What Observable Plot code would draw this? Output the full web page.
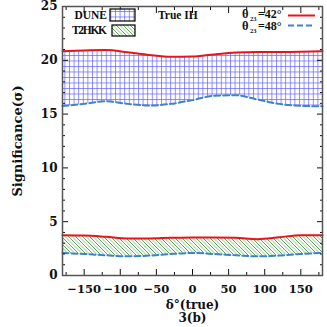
<!DOCTYPE html>
<html><head><meta charset="utf-8">
<script src="https://cdn.jsdelivr.net/npm/d3@7"></script>
<script src="https://cdn.jsdelivr.net/npm/@observablehq/plot@0.6"></script>
<style>body{margin:0;background:#fff}</style>
</head><body><div id="chart"></div>
<script>
const delta   = [-180, -150, -120, -90, -60, -30, 0, 30, 60, 90, 120, 150, 180];
const dune42  = [20.85, 20.92, 20.95, 20.75, 20.5, 20.33, 20.35, 20.55, 20.72, 20.78, 20.78, 20.8, 20.85];
const dune48  = [15.75, 15.95, 16.2, 15.95, 15.8, 15.95, 16.3, 16.7, 16.75, 16.35, 15.95, 15.77, 15.72];
const t2hkk42 = [3.75, 3.72, 3.6, 3.45, 3.45, 3.5, 3.53, 3.53, 3.5, 3.38, 3.55, 3.75, 3.75];
const t2hkk48 = [2.09, 2.0, 1.88, 1.78, 1.85, 2.0, 2.09, 2.0, 1.88, 1.78, 1.85, 2.0, 2.09];
const xTicks = [-150, -100, -50, 0, 50, 100, 150];
const xMinor = [-175, -125, -75, -25, 25, 75, 125, 175];
const yTicks = [0, 5, 10, 15, 20, 25];
const yMinor = [1,2,3,4,6,7,8,9,11,12,13,14,16,17,18,19,21,22,23,24];
const xLabel = "δ°(true)";
const yLabel = "Significance(σ)";
const caption = "3(b)";

const rows = delta.map((d, i) => ({d, dune42: dune42[i], dune48: dune48[i], t42: t2hkk42[i], t48: t2hkk48[i]}));
const curve = "monotone-x";
const red = "#e8141a", blue = "#3d84c6";
const font = "DejaVu Serif";
const lfont = "Liberation Serif";

const chart = Plot.plot({
  width: 327, height: 327,
  marginLeft: 62, marginRight: 5, marginTop: 6, marginBottom: 52,
  style: {fontFamily: font, fontWeight: "bold", fontSize: "12px", color: "#111", background: "#fff"},
  x: {domain: [-180, 180]},
  y: {domain: [0, 25]},
  marks: [
    Plot.areaY(rows, {x: "d", y1: "dune48", y2: "dune42", fill: "url(#gridpat)", curve}),
    Plot.areaY(rows, {x: "d", y1: "t48", y2: "t42", fill: "url(#diagpat)", curve}),
    Plot.lineY(rows, {x: "d", y: "dune42", stroke: red, strokeWidth: 2, curve}),
    Plot.lineY(rows, {x: "d", y: "dune48", stroke: blue, strokeWidth: 2, strokeDasharray: "6,3", curve}),
    Plot.lineY(rows, {x: "d", y: "t42", stroke: red, strokeWidth: 2, curve}),
    Plot.lineY(rows, {x: "d", y: "t48", stroke: blue, strokeWidth: 2, strokeDasharray: "6,3", curve}),
    Plot.axisX({ticks: xTicks, tickSize: 0, tickPadding: 9, label: null, fontSize: 11.5}),
    Plot.axisX({ticks: xTicks, tickSize: 0, text: null, label: xLabel, labelAnchor: "center", labelArrow: "none", labelOffset: 33}),
    Plot.axisX({ticks: xTicks, tickSize: -6, text: null, label: null}),
    Plot.axisX({ticks: xMinor, tickSize: -3, text: null, label: null}),
    Plot.axisX({anchor: "top", ticks: xTicks, tickSize: -6, text: null, label: null}),
    Plot.axisX({anchor: "top", ticks: xMinor, tickSize: -3, text: null, label: null}),
    Plot.axisY({ticks: yTicks, tickSize: 0, tickPadding: 5, text: null, label: yLabel, labelAnchor: "center", labelArrow: "none", labelOffset: 50, fontSize: 13}),
    Plot.axisY({ticks: yTicks, tickSize: 0, tickPadding: 5, label: null}),
    Plot.axisY({ticks: yTicks, tickSize: -6, text: null, label: null}),
    Plot.axisY({ticks: yMinor, tickSize: -3, text: null, label: null}),
    Plot.axisY({anchor: "right", ticks: yTicks, tickSize: -6, text: null, label: null}),
    Plot.axisY({anchor: "right", ticks: yMinor, tickSize: -3, text: null, label: null}),
    Plot.frame({stroke: "#555", strokeWidth: 1.5}),
    Plot.text([caption], {frameAnchor: "bottom", dy: 46, fontSize: 12, fontWeight: "bold"})
  ]
});
document.getElementById("chart").appendChild(chart);

const svg = d3.select(chart);
const defs = svg.append("defs");
const g = defs.append("pattern").attr("id", "gridpat").attr("patternUnits", "userSpaceOnUse")
  .attr("width", 4.6).attr("height", 5.5);
g.append("rect").attr("width", 4.6).attr("height", 5.5).attr("fill", "#fff");
g.append("path").attr("d", "M0.5,0 V5.5 M0,0.5 H4.6").attr("stroke", "#6060ff").attr("stroke-width", 0.7).attr("fill", "none");
const p = defs.append("pattern").attr("id", "diagpat").attr("patternUnits", "userSpaceOnUse")
  .attr("width", 7).attr("height", 7);
p.append("rect").attr("width", 7).attr("height", 7).attr("fill", "#fff");
p.append("path").attr("d", "M-1,-1 L8,8 M-1,6 L1,8 M6,-1 L8,1").attr("stroke", "#2f8f2f").attr("stroke-width", 0.8);
p.append("path").attr("d", "M3.5,0 L7,3.5 M0,3.5 L3.5,7").attr("stroke", "#b0dbaa").attr("stroke-width", 1.1);

// legend
const L = svg.append("g").attr("font-family", lfont).attr("font-weight", "bold").attr("font-size", 11.5)
  .attr("fill", "#111").attr("text-anchor", "start");
L.append("text").attr("x", 107).attr("y", 19).attr("text-anchor", "end").text("DUNE");
L.append("rect").attr("x", 110).attr("y", 9).attr("width", 25).attr("height", 12).attr("fill", "url(#gridpat)").attr("stroke", "#000").attr("stroke-width", 1.2);
L.append("text").attr("x", 107).attr("y", 34).attr("text-anchor", "end").attr("textLength", 35).text("T2HKK");
L.append("rect").attr("x", 112).attr("y", 25).attr("width", 23).attr("height", 11).attr("fill", "url(#diagpat)").attr("stroke", "#000").attr("stroke-width", 1.2);
L.append("text").attr("x", 158).attr("y", 19).text("True IH");
function theta(y, val) {
  L.append("text").attr("x", 242).attr("y", y).attr("font-size", 12.5).text("θ");
  L.append("text").attr("x", 250).attr("y", y + 3).attr("font-size", 6.5).text("23");
  L.append("text").attr("x", 258).attr("y", y).attr("font-size", 12).text("=" + val + "°");
}
theta(18, "42");
theta(30, "48");
L.append("line").attr("x1", 288).attr("x2", 315).attr("y1", 15.5).attr("y2", 15.5).attr("stroke", red).attr("stroke-width", 2);
L.append("line").attr("x1", 288).attr("x2", 315).attr("y1", 25.5).attr("y2", 25.5).attr("stroke", blue).attr("stroke-width", 2).attr("stroke-dasharray", "6,3");
</script>
</body></html>
